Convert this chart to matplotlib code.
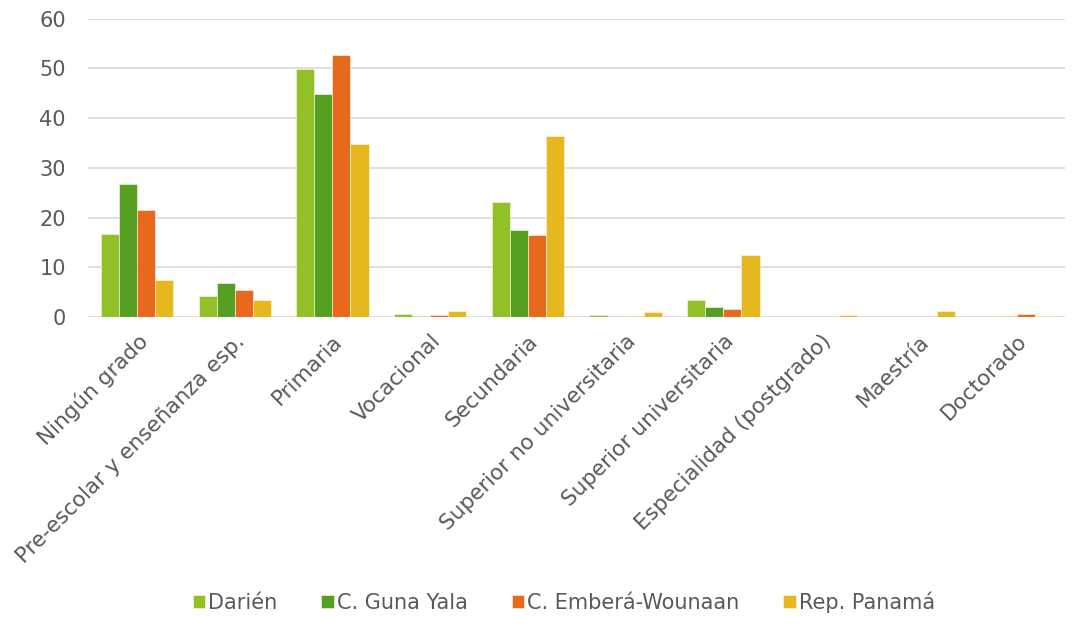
import matplotlib
matplotlib.use('Agg')

import matplotlib.pyplot as plt
import numpy as np

# datos (porcentaje)
categorias = ['Ningún grado', 'Pre-escolar y enseñanza esp.', 'Primaria', 'Vocacional',
              'Secundaria', 'Superior no universitaria', 'Superior universitaria',
              'Especialidad (postgrado)', 'Maestría', 'Doctorado']
darien = [16.7, 4.2, 49.9, 0.6, 23.1, 0.35, 3.4, 0.0, 0.0, 0.3]
guna_yala = [26.8, 6.8, 44.9, 0.3, 17.5, 0.15, 2.1, 0.0, 0.0, 0.3]
embera = [21.5, 5.5, 52.7, 0.35, 16.5, 0.3, 1.6, 0.0, 0.0, 0.6]
panama = [7.4, 3.4, 34.8, 1.2, 36.4, 1.0, 12.4, 0.5, 1.2, 0.3]

series = ['Darién', 'C. Guna Yala', 'C. Emberá-Wounaan', 'Rep. Panamá']
colores = ['#92c127', '#55a022', '#e8681c', '#e6b820']

plt.rcParams['font.family'] = ['DejaVu Sans']
gris = '#595959'

fig = plt.figure(figsize=(10.74, 6.24), dpi=100)
ax = fig.add_axes([0.082, 0.492, 0.910, 0.478])

x = np.arange(len(categorias))
ancho = 0.185
for i, (vals, nombre, c) in enumerate(zip([darien, guna_yala, embera, panama], series, colores)):
    ax.bar(x + (i - 1.5) * ancho, vals, ancho, color=c, label=nombre,
           edgecolor='#fbfbf0', linewidth=0.4, zorder=3)

ax.set_ylim(0, 60)
ax.set_yticks(range(0, 61, 10))
ax.set_xlim(-0.5, len(categorias) - 0.5)
ax.yaxis.grid(True, color='#d9d9d9', linewidth=1.2, zorder=0)
ax.set_axisbelow(True)
for s in ax.spines.values():
    s.set_visible(False)
ax.tick_params(axis='both', length=0, colors=gris, labelsize=15)
ax.tick_params(axis='y', pad=16)
ax.set_xticks(x)
ax.set_xticklabels(categorias, rotation=45, ha='right', rotation_mode='anchor',
                   color=gris, fontsize=15.5)
ax.tick_params(axis='x', pad=10)

fig.legend(loc='lower center', ncol=4, frameon=False, fontsize=15,
           handlelength=0.6, handleheight=0.6, handletextpad=0.15,
           columnspacing=2.1, bbox_to_anchor=(0.525, -0.012), labelcolor=gris)

plt.savefig('out.png', dpi=100)
